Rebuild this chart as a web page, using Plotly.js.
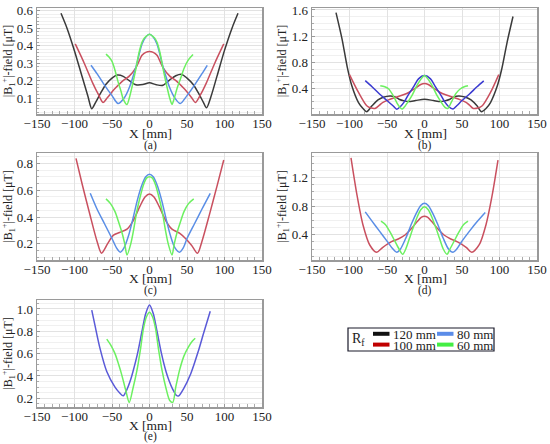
<!DOCTYPE html>
<html>
<head>
<meta charset="utf-8">
<script src="https://cdn.plot.ly/plotly-3.0.1.min.js"></script>
<style>html,body{margin:0;padding:0;background:#fff}#chart{width:550px;height:444px}</style>
</head>
<body>
<div id="chart"></div>
<script>
// ---------- data ----------
const xTicks = [-150, -100, -50, 0, 50, 100, 150];
const radii = ['120 mm', '80 mm', '100 mm', '60 mm'];

// (a)
const xA120 = [-118,-110,-100,-90,-82,-77,-72,-65,-58,-50,-43,-35,-27,-18,-9,0,9,18,27,35,43,50,58,65,72,76,82,90,100,110,118];
const yA120 = [0.585,0.50,0.37,0.225,0.11,0.04,0.075,0.13,0.18,0.215,0.232,0.225,0.20,0.177,0.178,0.188,0.177,0.174,0.205,0.228,0.236,0.215,0.18,0.132,0.075,0.045,0.11,0.226,0.373,0.50,0.585];
const xA100 = [-99,-87,-76,-68,-62,-56,-47,-36,-27,-18,-10,-5,0,5,10,18,27,36,47,56,61,68,76,87,99];
const yA100 = [0.41,0.30,0.189,0.12,0.076,0.104,0.151,0.198,0.226,0.275,0.345,0.362,0.367,0.362,0.345,0.275,0.226,0.198,0.151,0.104,0.076,0.12,0.189,0.30,0.41];
const xA80 = [-78,-70,-60,-50,-42,-34,-27,-18,-10,-5,0,5,10,18,27,34,41,50,60,70,77];
const yA80 = [0.288,0.24,0.175,0.115,0.07,0.10,0.16,0.28,0.41,0.45,0.465,0.45,0.41,0.28,0.16,0.10,0.07,0.115,0.175,0.24,0.288];
const xA60 = [-58,-54,-50,-46,-42,-38,-35,-30,-27,-23,-18,-14,-10,-7,-4,0,4,7,10,14,18,23,27,30,33,37,41,46,52,58];
const yA60 = [0.352,0.335,0.31,0.26,0.195,0.14,0.095,0.064,0.10,0.17,0.27,0.36,0.42,0.443,0.455,0.465,0.455,0.443,0.42,0.36,0.27,0.17,0.10,0.065,0.10,0.16,0.207,0.27,0.32,0.35];

// (b)
const xB120 = [-118,-110,-103,-97,-88,-82,-77,-70,-62,-55,-46,-40,-34,-27,-21,-12,0,12,21,27,34,40,46,55,62,70,76,82,88,97,103,110,118];
const yB120 = [1.56,1.16,0.73,0.45,0.19,0.10,0.05,0.14,0.23,0.27,0.29,0.28,0.24,0.215,0.205,0.22,0.24,0.22,0.205,0.215,0.24,0.28,0.29,0.27,0.23,0.14,0.05,0.10,0.19,0.44,0.70,1.10,1.50];
const xB100 = [-100,-88,-77,-71,-66,-60,-56,-48,-39,-30,-21,-12,-5,0,5,12,21,30,39,48,56,60,65,71,77,88,99];
const yB100 = [0.615,0.343,0.14,0.105,0.10,0.15,0.19,0.23,0.266,0.30,0.343,0.41,0.465,0.48,0.465,0.41,0.343,0.30,0.266,0.23,0.19,0.15,0.10,0.105,0.14,0.343,0.615];
const xB80 = [-79,-70,-60,-50,-42,-37,-32,-27,-21,-14,-8,0,8,14,21,27,32,38,43,50,60,70,79];
const yB80 = [0.523,0.43,0.32,0.22,0.14,0.088,0.13,0.20,0.318,0.44,0.55,0.60,0.55,0.44,0.318,0.20,0.13,0.09,0.14,0.22,0.32,0.43,0.52];
const xB60 = [-59,-53,-48,-42,-37,-33,-30,-27,-22,-17,-10,-3,0,3,10,17,22,27,31,36,42,48,53,58];
const yB60 = [0.446,0.43,0.40,0.30,0.19,0.12,0.09,0.12,0.20,0.29,0.45,0.57,0.60,0.57,0.45,0.29,0.20,0.12,0.10,0.20,0.33,0.40,0.43,0.446];

// (c)
const xC100 = [-98,-90,-80,-70,-64,-56,-48,-40,-30,-22,-13,-6,0,6,13,22,30,40,48,56,64,70,80,90,99];
const yC100 = [0.837,0.65,0.43,0.22,0.131,0.20,0.265,0.285,0.31,0.37,0.477,0.55,0.572,0.55,0.477,0.37,0.31,0.28,0.24,0.19,0.13,0.22,0.42,0.63,0.825];
const xC80 = [-79,-70,-60,-50,-44,-39,-34,-28,-22,-16,-10,-5,0,5,10,16,22,28,34,40,45,50,60,70,81];
const yC80 = [0.577,0.46,0.35,0.24,0.17,0.138,0.17,0.26,0.39,0.53,0.64,0.70,0.718,0.70,0.64,0.53,0.39,0.26,0.17,0.138,0.17,0.24,0.35,0.46,0.577];
const xC60 = [-58,-52,-46,-41,-37,-33,-30,-25,-21,-17,-12,-8,-4,0,4,8,12,17,21,25,30,33,37,41,46,52,59];
const yC60 = [0.535,0.50,0.44,0.36,0.29,0.20,0.118,0.20,0.31,0.44,0.56,0.64,0.69,0.70,0.69,0.64,0.56,0.44,0.31,0.20,0.118,0.20,0.29,0.36,0.44,0.50,0.535];

// (d)
const xD100 = [-98,-90,-82,-73,-64,-56,-44,-35,-26,-18,-10,-4,0,4,10,18,26,35,44,56,63,73,82,90,98];
const yD100 = [1.477,0.955,0.536,0.256,0.154,0.22,0.302,0.34,0.396,0.48,0.58,0.645,0.66,0.645,0.58,0.48,0.396,0.34,0.30,0.22,0.154,0.26,0.54,0.94,1.445];
const xD80 = [-79,-70,-60,-50,-42,-37,-32,-25,-17,-10,-5,0,5,10,17,25,32,38,43,50,60,70,81];
const yD80 = [0.72,0.59,0.45,0.31,0.20,0.154,0.20,0.35,0.56,0.72,0.81,0.84,0.81,0.72,0.56,0.35,0.20,0.154,0.20,0.31,0.45,0.58,0.71];
const xD60 = [-58,-52,-46,-40,-34,-29,-25,-20,-15,-10,-5,0,5,10,15,20,25,30,34,40,46,52,58];
const yD60 = [0.59,0.54,0.44,0.32,0.20,0.126,0.20,0.35,0.50,0.64,0.75,0.79,0.75,0.64,0.50,0.35,0.20,0.126,0.20,0.32,0.44,0.54,0.59];

// (e)
const xE80 = [-77,-72,-66,-57,-46,-40,-35,-30,-25,-22,-16,-10,-5,0,5,10,16,22,26,31,36,39,45,55,65,72,81];
const yE80 = [0.99,0.83,0.647,0.44,0.30,0.25,0.222,0.28,0.37,0.44,0.60,0.80,0.96,1.036,0.96,0.80,0.60,0.44,0.36,0.28,0.225,0.222,0.28,0.42,0.62,0.78,0.98];
const xE60 = [-57,-52,-46,-41,-37,-32,-27,-22,-17,-12,-8,-4,0,4,8,12,17,22,27,31,35,40,46,52,57,61];
const yE60 = [0.73,0.68,0.60,0.50,0.41,0.28,0.163,0.29,0.44,0.64,0.827,0.93,0.97,0.93,0.827,0.64,0.44,0.29,0.18,0.163,0.30,0.45,0.58,0.66,0.71,0.737];

// ---------- styling ----------
const C120 = '#3a3a3a', C100 = '#c9505f', C80 = '#5a8ee6', C80dark = '#3a3ad0', C80e = '#5a5ad8', C60 = '#6cf060';
const LEG = {c120:'#111111', c100:'#c00000', c80:'#5b8ce8', c60:'#44ee44'};
const FONT = 'Liberation Serif';

function line(x, y, color, xa, ya) {
  return {x: x, y: y, xaxis: xa, yaxis: ya, type: 'scatter', mode: 'lines',
          line: {color: color, width: 1.5, shape: 'spline', smoothing: 0.8},
          showlegend: false, hoverinfo: 'skip'};
}

const traces = [
  line(xA120, yA120, C120, 'x', 'y'),
  line(xA100, yA100, C100, 'x', 'y'),
  line(xA80, yA80, C80, 'x', 'y'),
  line(xA60, yA60, C60, 'x', 'y'),
  line(xB120, yB120, C120, 'x2', 'y2'),
  line(xB100, yB100, C100, 'x2', 'y2'),
  line(xB80, yB80, C80dark, 'x2', 'y2'),
  line(xB60, yB60, C60, 'x2', 'y2'),
  line(xC100, yC100, C100, 'x3', 'y3'),
  line(xC80, yC80, C80, 'x3', 'y3'),
  line(xC60, yC60, C60, 'x3', 'y3'),
  line(xD100, yD100, C100, 'x4', 'y4'),
  line(xD80, yD80, C80, 'x4', 'y4'),
  line(xD60, yD60, C60, 'x4', 'y4'),
  line(xE80, yE80, C80e, 'x5', 'y5'),
  line(xE60, yE60, C60, 'x5', 'y5')
];

function xaxis(domain, anchor) {
  return {
    domain: domain, anchor: anchor, range: [-150, 150],
    tickmode: 'array', tickvals: xTicks,
    showline: true, linecolor: '#9a9a9a', linewidth: 1.5, mirror: true,
    showgrid: true, gridcolor: '#e2e2e2', gridwidth: 1, zeroline: false,
    ticks: 'inside', ticklen: 3, tickcolor: '#999',
    ticklabelstandoff: -3,
    minor: {dtick: 10, ticks: 'inside', ticklen: 3, tickcolor: '#aaa', showgrid: false},
    tickfont: {family: FONT, size: 13, color: '#222'}
  };
}
function yaxis(domain, anchor, range, dtick, minorStep) {
  return {
    domain: domain, anchor: anchor, range: range, dtick: dtick, tick0: 0,
    tickformat: '.1f',
    showline: true, linecolor: '#9a9a9a', linewidth: 1.5, mirror: true,
    showgrid: true, gridcolor: '#e2e2e2', gridwidth: 1, zeroline: false,
    ticks: 'inside', ticklen: 3, tickcolor: '#999',
    minor: {dtick: minorStep, ticks: 'inside', ticklen: 2, tickcolor: '#aaa', showgrid: true, gridcolor: '#f0f0f0'},
    tickfont: {family: FONT, size: 13, color: '#222'},
    title: {text: '|B<sub>1</sub><sup>+</sup>|-field [\u03bcT]', font: {family: FONT, size: 12, color: '#222'}, standoff: 2}
  };
}

const colL = [37/550, 262/550], colR = [312/550, 537/550];
const rowT = [1-114/444, 1-8/444], rowM = [1-260/444, 1-153/444], rowB = [1-407/444, 1-300/444];

// legend (drawn as a boxed key below panel (d))
const legendEntries = [
  {label: radii[0], color: LEG.c120, col: 0, row: 0},
  {label: radii[1], color: LEG.c80,  col: 1, row: 0},
  {label: radii[2], color: LEG.c100, col: 0, row: 1},
  {label: radii[3], color: LEG.c60,  col: 1, row: 1}
];
const px = v => v/550, py = v => 1 - v/444;
const shapes = [
  {type: 'rect', xref: 'paper', yref: 'paper', x0: px(348), x1: px(494), y0: py(351), y1: py(328),
   line: {color: '#1a1a2a', width: 1.2}, fillcolor: 'rgba(0,0,0,0)'}
];
const annotations = [];
legendEntries.forEach(e => {
  const sx = e.col === 0 ? 373 : 437;
  const cy = e.row === 0 ? 333.8 : 344.6;
  shapes.push({type: 'rect', xref: 'paper', yref: 'paper', x0: px(sx), x1: px(sx+16.5), y0: py(cy+2), y1: py(cy-2),
               line: {width: 0}, fillcolor: e.color});
  annotations.push({xref: 'paper', yref: 'paper', x: px(sx+18), y: py(cy+0.5), xanchor: 'left', yanchor: 'middle',
                    text: e.label, showarrow: false, font: {family: FONT, size: 13, color: '#222'}});
});
annotations.push({xref: 'paper', yref: 'paper', x: px(350), y: py(339.5), xanchor: 'left', yanchor: 'middle',
                  text: 'R<sub>f</sub>', showarrow: false, font: {family: FONT, size: 14, color: '#222'}});
// x-axis titles and panel letters
[['(a)', 150, 145, 133.5], ['(b)', 425, 145, 133.5], ['(c)', 150, 290, 278.5], ['(d)', 425, 290, 278.5], ['(e)', 150, 436.5, 425.5]].forEach(p => {
  annotations.push({xref: 'paper', yref: 'paper', x: px(p[1]), y: py(p[3]), xanchor: 'center', yanchor: 'middle',
                    text: 'X [mm]', showarrow: false, font: {family: FONT, size: 13.5, color: '#222'}});
  annotations.push({xref: 'paper', yref: 'paper', x: px(p[1]), y: py(p[2]), xanchor: 'center', yanchor: 'middle',
                    text: p[0], showarrow: false, font: {family: FONT, size: 11.5, color: '#222'}});
});

const layout = {
  width: 550, height: 444,
  margin: {l: 0, r: 0, t: 0, b: 0},
  paper_bgcolor: '#fff', plot_bgcolor: '#fff',
  showlegend: false,
  font: {family: FONT, color: '#222'},
  xaxis: xaxis(colL, 'y'),
  yaxis: yaxis(rowT, 'x', [0.01, 0.615], 0.1, 0.02),
  xaxis2: xaxis(colR, 'y2'),
  yaxis2: yaxis(rowT, 'x2', [0.015, 1.63], 0.4, 0.1),
  xaxis3: xaxis(colL, 'y3'),
  yaxis3: yaxis(rowM, 'x3', [0.08, 0.877], 0.2, 0.05),
  xaxis4: xaxis(colR, 'y4'),
  yaxis4: yaxis(rowM, 'x4', [0.046, 1.544], 0.4, 0.1),
  xaxis5: xaxis(colL, 'y5'),
  yaxis5: yaxis(rowB, 'x5', [0.122, 1.08], 0.2, 0.05),
  shapes: shapes,
  annotations: annotations
};

Plotly.newPlot('chart', traces, layout, {staticPlot: true, displayModeBar: false});
</script>
</body>
</html>
